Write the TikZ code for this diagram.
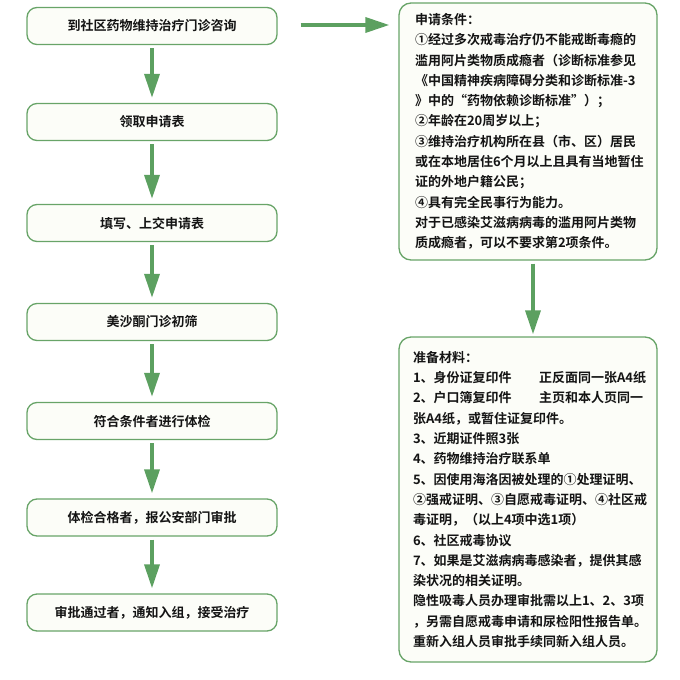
\documentclass[tikz,border=0pt]{standalone}
\usepackage{fontspec}
\usepackage{tikz}
\usetikzlibrary{arrows.meta, positioning}
\newfontfamily\cjk{Noto Sans CJK SC}[BoldFont={Noto Sans CJK SC Bold}]
\definecolor{boxgreen}{RGB}{104,164,104}
\definecolor{arrowgreen}{RGB}{92,160,96}
\definecolor{boxfill}{RGB}{252,253,248}
\definecolor{textdark}{RGB}{20,20,20}

\tikzset{
  stepbox/.style={draw=boxgreen, line width=1.3pt, fill=boxfill, rounded corners=10pt,
    minimum width=250pt, minimum height=37pt, text=textdark,
    font=\cjk\bfseries\fontsize{13pt}{16pt}\selectfont},
  infobox/.style={draw=boxgreen, line width=1.3pt, fill=boxfill, rounded corners=12pt,
    minimum width=258pt, align=left, text=textdark, inner ysep=0pt,
    font=\cjk\bfseries\fontsize{13pt}{20.3pt}\selectfont},
  flow/.style={draw=arrowgreen, line width=3.5pt,
    -{Triangle[length=24pt, width=15pt]}, shorten <=3pt, shorten >=5pt}
}

\begin{document}
\begin{tikzpicture}[x=1pt, y=-1pt]
		\useasboundingbox (0,0) rectangle (680,680);
		% Steps on the left
		\node[stepbox] (s1) at (152,26) {到社区药物维持治疗门诊咨询};
		\node[stepbox] (s2) at (152,122) {领取申请表};
		\node[stepbox] (s3) at (152,223) {填写、上交申请表};
		\node[stepbox] (s4) at (152,322) {美沙酮门诊初筛};
		\node[stepbox] (s5) at (152,421) {符合条件者进行体检};
		\node[stepbox] (s6) at (152,517.5) {体检合格者，报公安部门审批};
		\node[stepbox] (s7) at (152,612.5) {审批通过者，通知入组，接受治疗};
		% Conditions
		\node[infobox, minimum height=257pt, text width=226pt, inner xsep=16pt] (cond) at (528,131.5) {%
			申请条件：\\
			①经过多次戒毒治疗仍不能戒断毒瘾的\\
			滥用阿片类物质成瘾者（诊断标准参见\\
			《中国精神疾病障碍分类和诊断标准-3\\
			》中的“药物依赖诊断标准”）；\\
			②年龄在20周岁以上；\\
			③维持治疗机构所在县（市、区）居民\\
			或在本地居住6个月以上且具有当地暂住\\
			证的外地户籍公民；\\
			④具有完全民事行为能力。\\
			对于已感染艾滋病病毒的滥用阿片类物\\
			质成瘾者，可以不要求第2项条件。};
		% Materials
		\node[infobox, minimum height=325pt, text width=230pt, inner xsep=14pt] (mat) at (528,499.5) {%
			准备材料：\\
			\mbox{\makebox[126pt][l]{1、身份证复印件}正反面同一张A4纸}\\
			\mbox{\makebox[126pt][l]{2、户口簿复印件}主页和本人页同一}\\
			张A4纸，或暂住证复印件。\\
			3、近期证件照3张\\
			4、药物维持治疗联系单\\
			5、因使用海洛因被处理的①处理证明、\\
			②强戒证明、③自愿戒毒证明、④社区戒\\
			毒证明，（以上4项中选1项）\\
			6、社区戒毒协议\\
			7、如果是艾滋病病毒感染者，提供其感\\
			染状况的相关证明。\\
			隐性吸毒人员办理审批需以上1、2、3项\\
			，另需自愿戒毒申请和尿检阳性报告单。\\
			重新入组人员审批手续同新入组人员。};
		% Arrows
		\foreach \a/\b in {s1/s2, s2/s3, s3/s4, s4/s5, s5/s6, s6/s7}
			\draw[flow] (\a) -- (\b);
		\draw[flow, shorten <=23pt, shorten >=9pt] ([yshift=1pt]s1.east) -- ([yshift=1pt]s1.east -| cond.west);
		\draw[flow, shorten >=2pt] ([xshift=5pt]cond.south) -- ([xshift=5pt]mat.north);
	\end{tikzpicture}
\end{document}
